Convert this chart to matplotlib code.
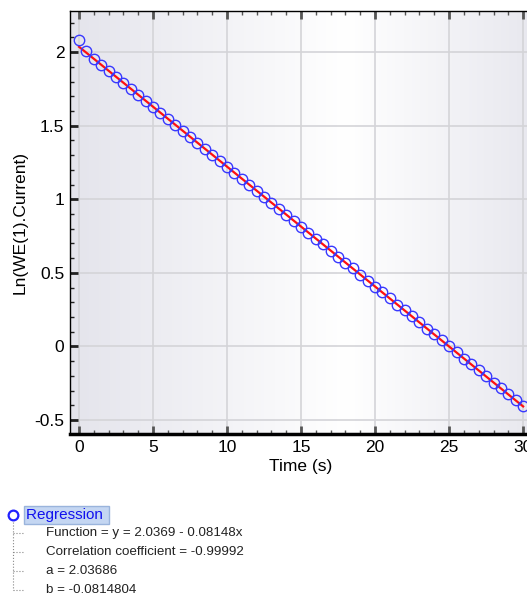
import numpy as np
import matplotlib
matplotlib.use('Agg')
from matplotlib import pyplot as plt
from matplotlib.ticker import MultipleLocator

plt.rcParams['font.family'] = ['Liberation Sans', 'DejaVu Sans']

# data
time_s = [0, 0.5, 1, 1.5, 2, 2.5, 3, 3.5, 4, 4.5, 5, 5.5, 6, 6.5, 7, 7.5, 8, 8.5, 9, 9.5,
          10, 10.5, 11, 11.5, 12, 12.5, 13, 13.5, 14, 14.5, 15, 15.5, 16, 16.5, 17, 17.5,
          18, 18.5, 19, 19.5, 20, 20.5, 21, 21.5, 22, 22.5, 23, 23.5, 24, 24.5, 25, 25.5,
          26, 26.5, 27, 27.5, 28, 28.5, 29, 29.5, 30]
ln_current = [2.080, 2.005, 1.955, 1.914, 1.873, 1.833, 1.792, 1.751, 1.711, 1.670,
              1.629, 1.589, 1.548, 1.507, 1.467, 1.426, 1.385, 1.344, 1.304, 1.263,
              1.222, 1.181, 1.141, 1.100, 1.059, 1.019, 0.978, 0.937, 0.896, 0.856,
              0.815, 0.774, 0.733, 0.693, 0.652, 0.611, 0.570, 0.530, 0.489, 0.448,
              0.407, 0.367, 0.326, 0.285, 0.245, 0.204, 0.163, 0.122, 0.082, 0.041,
              0.000, -0.041, -0.082, -0.122, -0.163, -0.204, -0.245, -0.285, -0.326, -0.367,
              -0.407]
fit_a = 2.03686
fit_b = -0.0814804
info_lines = ['Function = y = 2.0369 - 0.08148x',
              'Correlation coefficient = -0.99992',
              'a = 2.03686',
              'b = -0.0814804']

W, H = 527, 594
fig = plt.figure(figsize=(W / 100, H / 100), dpi=100)
ax = fig.add_axes([70 / W, (H - 434) / H, 462 / W, 423 / H])

# background gradient grey -> white -> grey
xs = np.linspace(0, 1, 300)
shade = np.interp(xs, [0, 0.6, 1], [0, 1, 0.15])
bg = np.zeros((1, 300, 3))
c0 = np.array([0.895, 0.895, 0.925])
bg[0] = c0 + (1 - c0) * shade[:, None]
ax.imshow(bg, extent=[0, 1, 0, 1], transform=ax.transAxes, aspect='auto', zorder=0)

ax.set_xlim(-0.608, 30.6)
ax.set_ylim(-0.595, 2.28)

ax.grid(True, color='#d4d4d8', linewidth=1.2, zorder=1)
ax.set_axisbelow(True)

tx = np.array([0, 30])
ax.plot(tx, fit_a + fit_b * tx, color='#ff1010', linewidth=1.6, zorder=3)
ax.plot(time_s, ln_current, linestyle='none', marker='o', markersize=7.5,
        markerfacecolor='none', markeredgecolor='#3838ff', markeredgewidth=1.0, zorder=4)

ax.xaxis.set_major_locator(MultipleLocator(5))
ax.xaxis.set_minor_locator(MultipleLocator(1))
ax.yaxis.set_major_locator(MultipleLocator(0.5))
ax.yaxis.set_minor_locator(MultipleLocator(0.1))
ax.tick_params(which='major', direction='in', length=6, width=2, color='#555555',
               top=True, labelsize=12.5, pad=4)
ax.tick_params(which='minor', direction='in', length=3, width=1, color='#555555', top=True)
ax.tick_params(axis='y', which='both', color='#222222')
ax.set_yticks([2, 1.5, 1, 0.5, 0, -0.5])
ax.set_yticklabels(['2', '1.5', '1', '0.5', '0', '-0.5'])

for s in ['top', 'left']:
    ax.spines[s].set_linewidth(1.0)
ax.spines['bottom'].set_linewidth(2.5)
ax.spines['right'].set_visible(False)

ax.set_xlabel('Time (s)', fontsize=12.5, labelpad=3)
ax.set_ylabel('Ln(WE(1).Current)', fontsize=12.5, labelpad=5)

# regression info tree under the chart
fig.add_artist(plt.Line2D([13 / W], [1 - 515 / H], marker='o', markersize=7,
                          markerfacecolor='none', markeredgecolor='#2020ff',
                          markeredgewidth=1.6, linestyle='none'))
fig.text(26 / W, 1 - 515 / H, 'Regression ', color='#1010ee', fontsize=11, ha='left',
         va='center', bbox=dict(facecolor='#c4d6f2', edgecolor='#9ab4dc',
                                boxstyle='square,pad=0.15'))
ys = [533, 552, 571, 590]
fig.add_artist(plt.Line2D([13 / W, 13 / W], [1 - 522 / H, 1 - 590 / H], color='#888888',
                          linewidth=0.8, linestyle=':'))
for y, txt in zip(ys, info_lines):
    fig.add_artist(plt.Line2D([13 / W, 24 / W], [1 - y / H, 1 - y / H], color='#888888',
                              linewidth=0.8, linestyle=':'))
    fig.text(46 / W, 1 - y / H, txt, fontsize=9.6, ha='left', va='center', color='#222222')

fig.savefig('out.png', dpi=100)
